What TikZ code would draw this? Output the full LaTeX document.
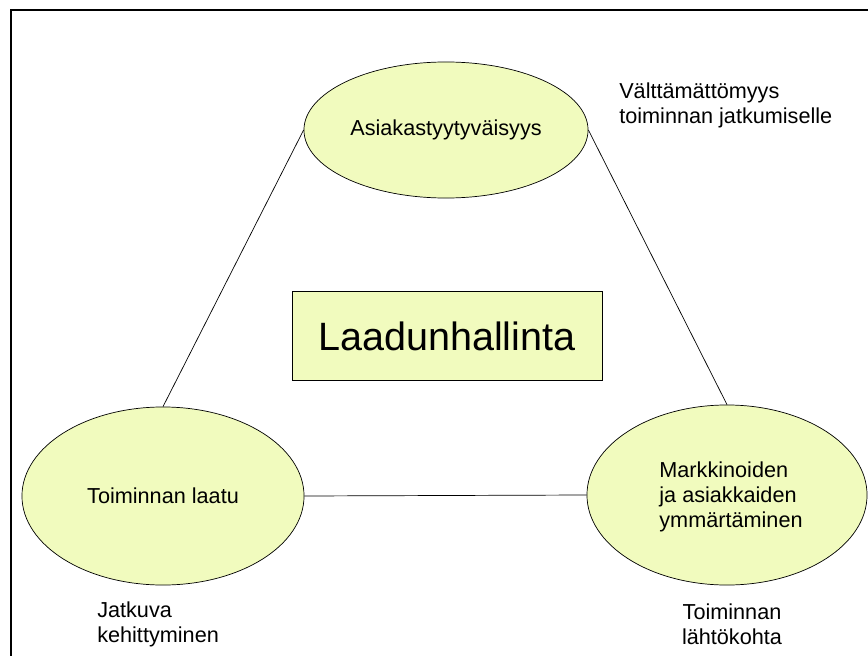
\documentclass[tikz,border=0pt]{standalone}
\usepackage{fontspec}
\setmainfont{Liberation Sans}
\usetikzlibrary{shapes.geometric}
\definecolor{lightlime}{RGB}{241,251,190}

\begin{document}
\begin{tikzpicture}[x=0.025cm, y=-0.025cm,
    oval/.style={ellipse, draw, fill=lightlime, inner sep=0pt, line width=0.5pt},
    note/.style={align=left, inner sep=0pt, font=\fontsize{15.4}{17.8}\selectfont},
    link/.style={draw, line width=0.5pt}
]
\useasboundingbox (0,0) rectangle (868,656);
\clip (0,0) rectangle (868,656);
\fill[white] (0,0) rectangle (868,656);
% frame, runs off the right and bottom
\draw[line width=1.1pt] (11,10) rectangle (890,680);

  % the three corners
  \node[oval, minimum width=7.1cm, minimum height=3.4cm] (asiakas) at (446,130)
    {\fontsize{15.4}{17.8}\selectfont Asiakastyytyväisyys};
  \node[oval, minimum width=7.05cm, minimum height=4.45cm] (laatu) at (163,496)
    {\fontsize{15.4}{17.8}\selectfont Toiminnan laatu};
  \node[oval, minimum width=7cm, minimum height=4.5cm] (markkinat) at (727,495)
    {};
  \node[note] (markkinatxt) at (731,497) {Markkinoiden\\ja asiakkaiden\\ymmärtäminen};

\path[link] (asiakas.west) -- (laatu.north);
\path[link] (asiakas.east) -- (markkinat.north);
\path[link] (laatu.east) -- (markkinat.west);

  % centre box
  \node[draw, fill=lightlime, line width=0.5pt, minimum width=7.75cm, minimum height=2.225cm,
    font=\fontsize{28.1}{32}\selectfont] (laadun) at (447,336) {Laadunhallinta};

  % side notes
  \node[note, anchor=west] (valttama) at (619,105) {Välttämättömyys\\toiminnan jatkumiselle};
  \node[note, anchor=west] (jatkuva) at (97,624) {Jatkuva\\kehittyminen};
  \node[note, align=center] (lahto) at (732,624) {Toiminnan\\lähtökohta};
\end{tikzpicture}
\end{document}
